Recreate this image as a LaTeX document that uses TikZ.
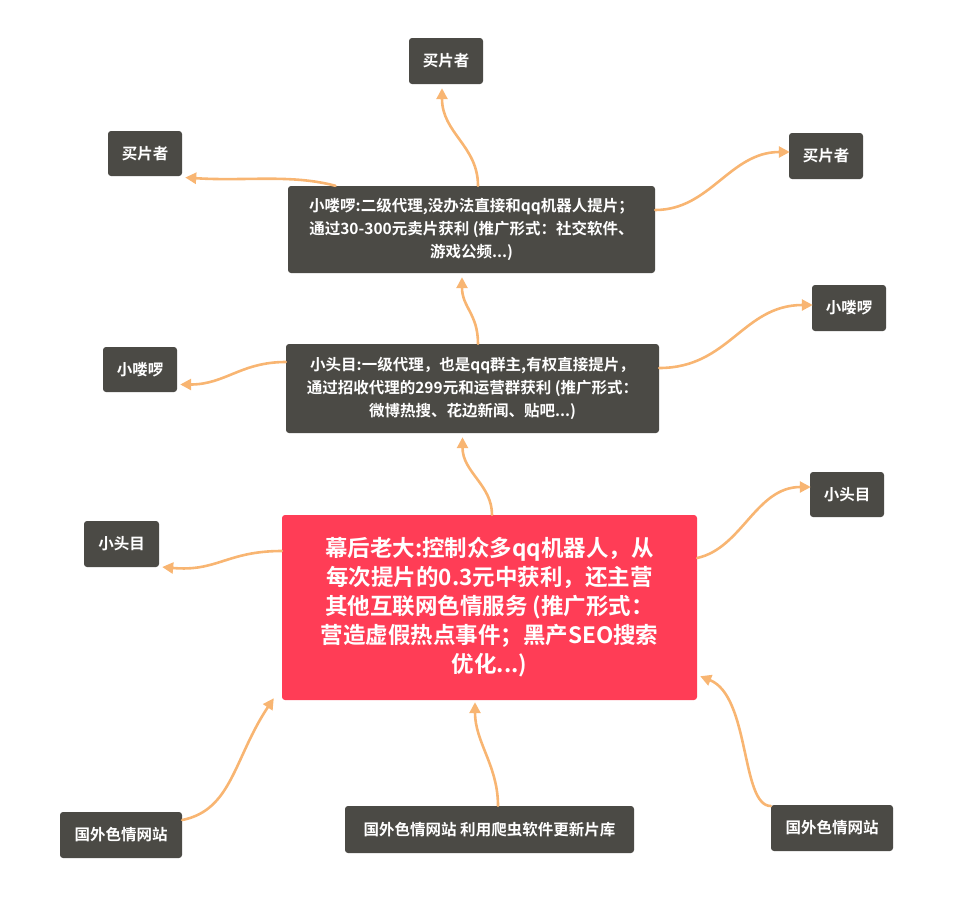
\documentclass[tikz,border=0pt]{standalone}
\usepackage{fontspec}
\setmainfont{Noto Sans CJK SC}[BoldFont={* Bold}]
\usetikzlibrary{arrows.meta}
\definecolor{boxdark}{HTML}{4B4A45}
\definecolor{boxred}{HTML}{FF3D56}
\definecolor{linkor}{HTML}{F8B572}
\tikzset{
  leaf/.style={fill=boxdark, rounded corners=3pt, text=white, font=\bfseries\fontsize{15.5}{18}\selectfont, inner sep=0pt, anchor=center},
  mid/.style={fill=boxdark, rounded corners=3pt, text=white, font=\bfseries\fontsize{15.5}{23}\selectfont, align=center, inner sep=0pt},
  root/.style={fill=boxred, rounded corners=3pt, text=white, font=\bfseries\fontsize{22.5}{29}\selectfont, align=center, inner sep=0pt},
  link/.style={draw=linkor, line width=2.6pt, -{Triangle[length=11pt,width=11pt]}, line cap=round}
}
\begin{document}
\begin{tikzpicture}[x=1pt,y=-1pt]
\useasboundingbox (0,0) rectangle (964,905);
% nodes
\node[root, minimum width=415pt, minimum height=185pt] (main) at (489.5,607.5)
  {幕后老大:控制众多qq机器人，从\\每次提片的0.3元中获利，还主营\\其他互联网色情服务 (推广形式：\\营造虚假热点事件；黑产SEO搜索\\优化...)};
\node[mid, minimum width=373pt, minimum height=89pt] (l1) at (472.5,388.5)
  {小头目:一级代理，也是qq群主,有权直接提片，\\通过招收代理的299元和运营群获利 (推广形式：\\微博热搜、花边新闻、贴吧...)};
\node[mid, minimum width=367pt, minimum height=87pt] (l2) at (471.5,229.5)
  {小喽啰:二级代理,没办法直接和qq机器人提片；\\通过30-300元卖片获利 (推广形式：社交软件、\\游戏公频...)};
\node[leaf, minimum width=74pt, minimum height=46pt] (b1) at (446,61) {买片者};
\node[leaf, minimum width=74pt, minimum height=45pt] (b2) at (145,153.5) {买片者};
\node[leaf, minimum width=74pt, minimum height=46pt] (b3) at (826,156) {买片者};
\node[leaf, minimum width=74pt, minimum height=46pt] (x1) at (849,308) {小喽啰};
\node[leaf, minimum width=74pt, minimum height=45pt] (x2) at (140,369.5) {小喽啰};
\node[leaf, minimum width=74pt, minimum height=45pt] (t1) at (847,494.5) {小头目};
\node[leaf, minimum width=75pt, minimum height=46pt] (t2) at (121.5,544) {小头目};
\node[leaf, minimum width=122pt, minimum height=46pt] (s1) at (121,835) {国外色情网站};
\node[leaf, minimum width=289pt, minimum height=47pt] (s2) at (489.5,829.5) {国外色情网站 利用爬虫软件更新片库};
\node[leaf, minimum width=122pt, minimum height=46pt] (s3) at (832,828) {国外色情网站};
% connectors
\draw[link] ([xshift=2.5pt]main.north) .. controls +(0,-30) and +(0,35) .. ([xshift=-10pt,yshift=-4pt]l1.south);
\draw[link] ([xshift=5.5pt]l1.north) .. controls +(0,-30) and +(0,30) .. ([xshift=-9.5pt,yshift=-4pt]l2.south);
\draw[link] ([xshift=6.5pt]l2.north) .. controls +(0,-40) and +(0,45) .. ([xshift=-4pt,yshift=-4pt]b1.south);
\draw[link] ([xshift=-136pt]l2.north) .. controls +(-45,-12) and +(60,4) .. ([xshift=3pt,yshift=-24pt]b2.east);
\draw[link] ([yshift=19.5pt]l2.east) .. controls +(55,0) and +(-60,0) .. ([xshift=1pt,yshift=4pt]b3.west);
\draw[link] ([yshift=20.5pt]l1.east) .. controls +(70,0) and +(-70,0) .. ([xshift=1pt,yshift=3pt]x1.west);
\draw[link] ([yshift=26.5pt]l1.west) .. controls +(-45,0) and +(45,0) .. ([xshift=3pt,yshift=-15pt]x2.east);
\draw[link] ([yshift=49.5pt]main.east) .. controls +(45,-10) and +(-55,0) .. ([xshift=1pt,yshift=7.5pt]t1.west);
\draw[link] ([yshift=56.5pt]main.west) .. controls +(-55,0) and +(55,5) .. ([xshift=3pt,yshift=-23pt]t2.east);
\draw[link] ([yshift=15pt]s1.east) .. controls +(50,-10) and +(-40,60) .. ([xshift=-8pt,yshift=2pt]main.south west);
\draw[link] ([xshift=8.5pt]s2.north) .. controls +(0,-40) and +(0,40) .. ([xshift=-14.5pt,yshift=-2pt]main.south);
\draw[link] ([yshift=22pt]s3.west) .. controls +(-30,0) and +(50,20) .. ([xshift=3pt,yshift=24pt]main.south east);
\end{tikzpicture}
\end{document}
